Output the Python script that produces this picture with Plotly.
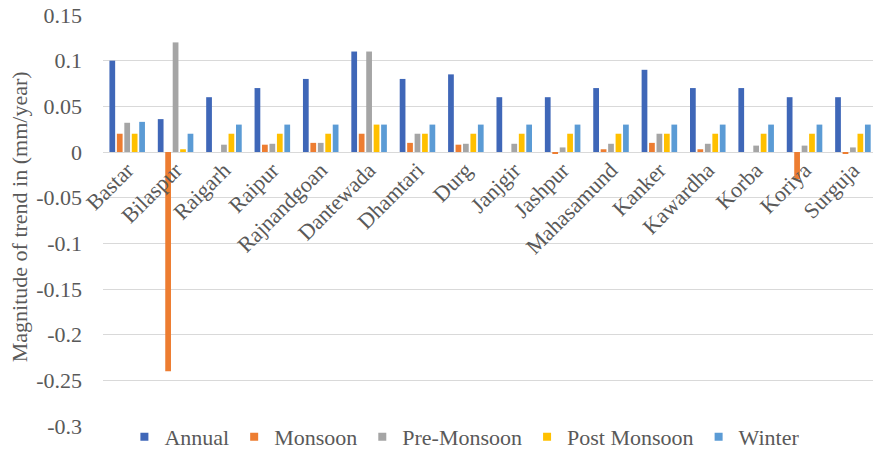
import plotly.graph_objects as go

# District-wise trend magnitudes (mm/year)
districts = ["Bastar", "Bilaspur", "Raigarh", "Raipur", "Rajnandgoan", "Dantewada",
             "Dhamtari", "Durg", "Janjgir", "Jashpur", "Mahasamund", "Kanker",
             "Kawardha", "Korba", "Koriya", "Surguja"]

annual = [0.100, 0.036, 0.060, 0.070, 0.080, 0.110, 0.080, 0.085,
          0.060, 0.060, 0.070, 0.090, 0.070, 0.070, 0.060, 0.060]
monsoon = [0.020, -0.240, 0.000, 0.008, 0.010, 0.020, 0.010, 0.008,
           0.000, -0.002, 0.003, 0.010, 0.003, 0.000, -0.030, -0.002]
pre_monsoon = [0.032, 0.120, 0.008, 0.009, 0.010, 0.110, 0.020, 0.009,
               0.009, 0.005, 0.009, 0.020, 0.009, 0.007, 0.007, 0.005]
post_monsoon = [0.020, 0.003, 0.020, 0.020, 0.020, 0.030, 0.020, 0.020,
                0.020, 0.020, 0.020, 0.020, 0.020, 0.020, 0.020, 0.020]
winter = [0.033, 0.020, 0.030, 0.030, 0.030, 0.030, 0.030, 0.030,
          0.030, 0.030, 0.030, 0.030, 0.030, 0.030, 0.030, 0.030]

series_names = ["Annual", "Monsoon", "Pre-Monsoon", "Post Monsoon", "Winter"]
series_values = [annual, monsoon, pre_monsoon, post_monsoon, winter]
series_colors = ["#3F67B8", "#ED7D31", "#A5A5A5", "#FFC000", "#5B9BD5"]

y_ticks = [0.15, 0.1, 0.05, 0, -0.05, -0.1, -0.15, -0.2, -0.25, -0.3]
y_tick_text = ["0.15", "0.1", "0.05", "0", "-0.05", "-0.1", "-0.15", "-0.2", "-0.25", "-0.3"]

FONT = "Liberation Serif"
TEXT_COLOR = "#595959"
GRID_COLOR = "#D9D9D9"
FS = 22

fig = go.Figure()
for name, vals, color in zip(series_names, series_values, series_colors):
    fig.add_trace(go.Bar(x=districts, y=vals, name=name, marker_color=color,
                         marker_line_width=0, showlegend=False))
    # small square legend keys
    fig.add_trace(go.Scatter(x=[None], y=[None], mode="markers", name=name,
                             marker=dict(symbol="square", size=8, color=color)))

y_min, y_max = -0.3, 0.15
fig.update_layout(
    width=873, height=449,
    margin=dict(l=103, r=0, t=15, b=23, autoexpand=False),
    paper_bgcolor="white", plot_bgcolor="white",
    barmode="group", bargap=0.23, bargroupgap=0.23,
    font=dict(family=FONT, size=FS, color=TEXT_COLOR),
    xaxis=dict(type="category", anchor="free",
               position=(0 - y_min) / (y_max - y_min),
               range=[-0.5, 15.415], tickangle=-45,
               showline=False, showgrid=False, ticks="",
               tickfont=dict(family=FONT, size=FS, color=TEXT_COLOR)),
    yaxis=dict(range=[y_min, y_max], tickvals=y_ticks, ticktext=y_tick_text,
               showgrid=True, gridcolor=GRID_COLOR, gridwidth=1,
               zeroline=True, zerolinecolor=GRID_COLOR, zerolinewidth=1,
               ticks="", ticklabelstandoff=20,
               tickfont=dict(family=FONT, size=FS, color=TEXT_COLOR)),
    legend=dict(orientation="h", x=0.47, xanchor="center",
                yref="container", y=0.027, yanchor="middle", itemwidth=30,
                font=dict(family=FONT, size=FS, color=TEXT_COLOR),
                bgcolor="rgba(0,0,0,0)"),
    annotations=[dict(text="Magnitude of trend in (mm/year)",
                      xref="paper", yref="paper", x=-0.108, y=0.51,
                      xanchor="center", yanchor="middle", textangle=-90,
                      showarrow=False,
                      font=dict(family=FONT, size=FS, color=TEXT_COLOR))],
)

fig.write_html("out.html")
